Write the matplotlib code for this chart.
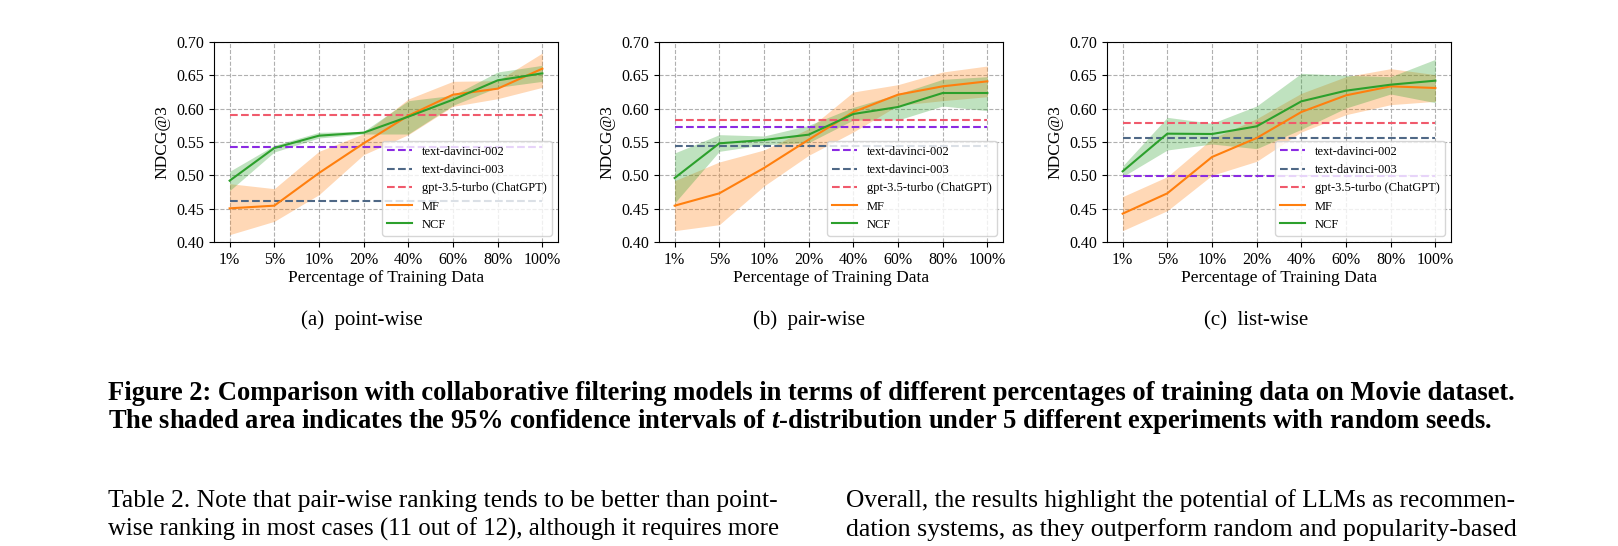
import matplotlib
matplotlib.use("Agg")
import matplotlib.pyplot as plt
import numpy as np

W, H = 1618, 546

plt.rcParams["font.family"] = ["Liberation Serif", "DejaVu Serif"]
plt.rcParams["mathtext.fontset"] = "custom"
plt.rcParams["mathtext.it"] = "Liberation Serif:italic:bold"
plt.rcParams["mathtext.rm"] = "Liberation Serif:bold"

pct_labels = ["1%", "5%", "10%", "20%", "40%", "60%", "80%", "100%"]
subcaptions = ["(a)  point-wise", "(b)  pair-wise", "(c)  list-wise"]
llm_names = ["text-davinci-002", "text-davinci-003", "gpt-3.5-turbo (ChatGPT)"]

# point-wise
pt_llm = [0.542, 0.462, 0.591]
pt_mf = [0.4505, 0.4545, 0.5035, 0.548, 0.5895, 0.621, 0.630, 0.660]
pt_mf_lo = [0.411, 0.431, 0.471, 0.531, 0.561, 0.6035, 0.615, 0.632]
pt_mf_hi = [0.4875, 0.480, 0.536, 0.5625, 0.6145, 0.641, 0.642, 0.6835]
pt_ncf = [0.492, 0.541, 0.5595, 0.564, 0.588, 0.6135, 0.6425, 0.653]
pt_ncf_lo = [0.477, 0.535, 0.556, 0.562, 0.562, 0.605, 0.632, 0.641]
pt_ncf_hi = [0.506, 0.545, 0.5645, 0.566, 0.612, 0.620, 0.655, 0.665]

# pair-wise
pr_llm = [0.573, 0.5445, 0.583]
pr_mf = [0.4545, 0.473, 0.511, 0.5535, 0.595, 0.621, 0.6335, 0.641]
pr_mf_lo = [0.417, 0.426, 0.484, 0.530, 0.565, 0.605, 0.612, 0.618]
pr_mf_hi = [0.492, 0.520, 0.538, 0.570, 0.625, 0.636, 0.655, 0.664]
pr_ncf = [0.496, 0.548, 0.553, 0.561, 0.592, 0.6025, 0.6235, 0.6235]
pr_ncf_lo = [0.4585, 0.536, 0.546, 0.549, 0.583, 0.583, 0.604, 0.597]
pr_ncf_hi = [0.5335, 0.561, 0.559, 0.575, 0.602, 0.622, 0.644, 0.648]

# list-wise
ls_llm = [0.4995, 0.5565, 0.5785]
ls_mf = [0.4425, 0.473, 0.5275, 0.556, 0.595, 0.620, 0.6335, 0.631]
ls_mf_lo = [0.417, 0.447, 0.500, 0.521, 0.565, 0.591, 0.606, 0.611]
ls_mf_hi = [0.468, 0.498, 0.555, 0.585, 0.623, 0.648, 0.660, 0.651]
ls_ncf = [0.506, 0.5625, 0.562, 0.5735, 0.611, 0.627, 0.636, 0.642]
ls_ncf_lo = [0.498, 0.538, 0.547, 0.540, 0.569, 0.601, 0.622, 0.609]
ls_ncf_hi = [0.514, 0.587, 0.578, 0.604, 0.653, 0.650, 0.648, 0.674]

caption_1 = ("Figure 2: Comparison with collaborative filtering models in terms of "
             "different percentages of training data on Movie dataset.")
caption_2 = ("The shaded area indicates the 95% confidence intervals of $t$-distribution "
             "under 5 different experiments with random seeds.")
body_left = ["Table 2. Note that pair-wise ranking tends to be better than point-",
             "wise ranking in most cases (11 out of 12), although it requires more"]
body_right = ["Overall, the results highlight the potential of LLMs as recommen-",
              "dation systems, as they outperform random and popularity-based"]

panels = [
    (pt_llm, pt_mf, pt_mf_lo, pt_mf_hi, pt_ncf, pt_ncf_lo, pt_ncf_hi),
    (pr_llm, pr_mf, pr_mf_lo, pr_mf_hi, pr_ncf, pr_ncf_lo, pr_ncf_hi),
    (ls_llm, ls_mf, ls_mf_lo, ls_mf_hi, ls_ncf, ls_ncf_lo, ls_ncf_hi),
]
llm_colors = ["#8a2be2", "#4f6886", "#f05a6c"]
mf_color = "#ff7f0e"
ncf_color = "#2ca02c"

fig = plt.figure(figsize=(W / 100, H / 100), dpi=100)
renderer = fig.canvas.get_renderer()

axes_left = [214, 659, 1107]
ax_w, ax_top, ax_bot = 344, 42, 242
sub_centers = [362, 809, 1256]

x = np.arange(len(pct_labels))
for i, (llm, mf, mf_lo, mf_hi, ncf, ncf_lo, ncf_hi) in enumerate(panels):
    ax = fig.add_axes([axes_left[i] / W, 1 - ax_bot / H, ax_w / W, (ax_bot - ax_top) / H])
    for name, val, col in zip(llm_names, llm, llm_colors):
        ax.plot(x, np.full(len(x), val), linestyle="--", color=col, lw=1.5, label=name)
    ax.plot(x, mf, color=mf_color, lw=1.5, label="MF")
    ax.fill_between(x, mf_lo, mf_hi, color=mf_color, alpha=0.3, lw=0)
    ax.plot(x, ncf, color=ncf_color, lw=1.5, label="NCF")
    ax.fill_between(x, ncf_lo, ncf_hi, color=ncf_color, alpha=0.3, lw=0)

    ax.set_ylim(0.40, 0.70)
    ax.set_yticks(np.arange(0.40, 0.701, 0.05))
    ax.set_yticklabels([f"{v:.2f}" for v in np.arange(0.40, 0.701, 0.05)])
    ax.set_xticks(x)
    ax.set_xticklabels(pct_labels)
    ax.tick_params(labelsize=11.5)
    ax.grid(True, linestyle="--", color="#b0b0b0", lw=0.8)
    ax.set_axisbelow(True)
    ax.set_xlabel("Percentage of Training Data", fontsize=12.5, labelpad=2)
    ax.set_ylabel("NDCG@3", fontsize=12.5, labelpad=4)
    ax.legend(loc="lower right", fontsize=9)

    fig.text(sub_centers[i] / W, 1 - 325 / H, subcaptions[i], ha="center",
             va="baseline", fontsize=15)


def fit_size(text, width_px, weight="normal", base=20):
    t = fig.text(0, 0, text, fontsize=base, fontweight=weight)
    w = t.get_window_extent(renderer=renderer).width
    t.remove()
    return base * width_px / w


cap_size = fit_size(caption_1, 1409, weight="bold")
fig.text(108 / W, 1 - 400 / H, caption_1, fontsize=cap_size, fontweight="bold", va="baseline")
fig.text(108 / W, 1 - 428 / H, caption_2, fontsize=cap_size, fontweight="bold", va="baseline")

for lines, x0 in [(body_left, 108), (body_right, 846)]:
    for j, line in enumerate(lines):
        fs = fit_size(line, 671)
        fig.text(x0 / W, 1 - (507 + 29 * j) / H, line, fontsize=fs, va="baseline")

fig.savefig("out.png", dpi=100)
